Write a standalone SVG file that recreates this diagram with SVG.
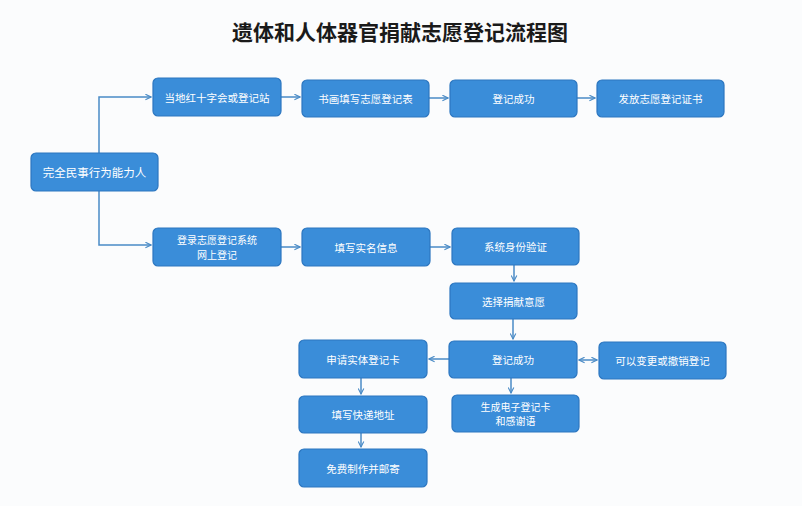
<svg xmlns="http://www.w3.org/2000/svg" width="802" height="506" viewBox="0 0 802 506">
<defs>
<style>
.n rect{fill:#3a8dd9;stroke:#2c76c0;stroke-width:1.2}
.n text{fill:#fff;font-family:"Noto Sans CJK SC","Noto Sans",sans-serif;font-size:10.5px;text-anchor:middle;dominant-baseline:central}
.n text.t{font-size:10px}
.c path{fill:none;stroke:#4a8bc6;stroke-width:1.5}
</style>
<marker id="a" viewBox="0 0 10 10" refX="9" refY="5" markerWidth="7" markerHeight="7" markerUnits="userSpaceOnUse" orient="auto-start-reverse">
<path d="M1,1 L9,5 L1,9" fill="none" stroke="#4a8bc6" stroke-width="1.6"/>
</marker>
</defs>
<rect width="802" height="506" fill="#fbfcfd"/>
<text x="400" y="31" font-family="Noto Sans CJK SC,sans-serif" font-weight="bold" font-size="21" fill="#1a1a1a" text-anchor="middle" dominant-baseline="central">遗体和人体器官捐献志愿登记流程图</text>
<g class="c">
<path d="M99,153 V97 H151" marker-end="url(#a)"/>
<path d="M99,191 V245 H151" marker-end="url(#a)"/>
<path d="M281,97 H300" marker-end="url(#a)"/>
<path d="M429,98 H448" marker-end="url(#a)"/>
<path d="M577,98 H595" marker-end="url(#a)"/>
<path d="M281,247 H300" marker-end="url(#a)"/>
<path d="M430,247 H450" marker-end="url(#a)"/>
<path d="M514,265 V281" marker-end="url(#a)"/>
<path d="M513,319 V339" marker-end="url(#a)"/>
<path d="M449,359 H429" marker-end="url(#a)"/>
<path d="M579,360 H597" marker-start="url(#a)" marker-end="url(#a)"/>
<path d="M511,378 V393" marker-end="url(#a)"/>
<path d="M361,378 V394" marker-end="url(#a)"/>
<path d="M361,433 V447" marker-end="url(#a)"/>
</g>
<g class="n" id="n1"><rect x="31" y="153" width="127" height="38" rx="5"/><text x="94.5" y="172" style="font-size:11.5px">完全民事行为能力人</text></g>
<g class="n" id="n2"><rect x="153" y="78" width="128" height="38" rx="5"/><text x="217" y="97">当地红十字会或登记站</text></g>
<g class="n" id="n3"><rect x="302" y="80" width="127" height="37" rx="5"/><text x="365.5" y="98.5">书画填写志愿登记表</text></g>
<g class="n" id="n4"><rect x="450" y="80" width="127" height="37" rx="5"/><text x="513.5" y="98.5">登记成功</text></g>
<g class="n" id="n5"><rect x="597" y="80" width="127" height="37" rx="5"/><text x="660.5" y="98.5">发放志愿登记证书</text></g>
<g class="n" id="n6"><rect x="153" y="228" width="128" height="38" rx="5"/><text class="t" x="217" y="239.8">登录志愿登记系统</text><text class="t" x="217" y="254.3">网上登记</text></g>
<g class="n" id="n7"><rect x="302" y="228" width="128" height="38" rx="5"/><text x="366" y="247">填写实名信息</text></g>
<g class="n" id="n8"><rect x="452" y="228" width="127" height="37" rx="5"/><text x="515.5" y="246.5">系统身份验证</text></g>
<g class="n" id="n9"><rect x="450" y="283" width="127" height="36" rx="5"/><text x="513.5" y="301">选择捐献意愿</text></g>
<g class="n" id="n10"><rect x="449" y="341" width="128" height="37" rx="5"/><text x="513" y="359.5">登记成功</text></g>
<g class="n" id="n11"><rect x="599" y="342" width="127" height="37" rx="5"/><text x="662.5" y="360.5">可以变更或撤销登记</text></g>
<g class="n" id="n12"><rect x="299" y="340" width="128" height="38" rx="5"/><text x="363" y="359">申请实体登记卡</text></g>
<g class="n" id="n13"><rect x="452" y="395" width="127" height="37" rx="5"/><text class="t" x="515.5" y="406.3">生成电子登记卡</text><text class="t" x="515.5" y="420.8">和感谢语</text></g>
<g class="n" id="n14"><rect x="299" y="396" width="128" height="37" rx="5"/><text x="363" y="414.5">填写快递地址</text></g>
<g class="n" id="n15"><rect x="299" y="449" width="128" height="38" rx="5"/><text x="363" y="468">免费制作并邮寄</text></g>
</svg>
